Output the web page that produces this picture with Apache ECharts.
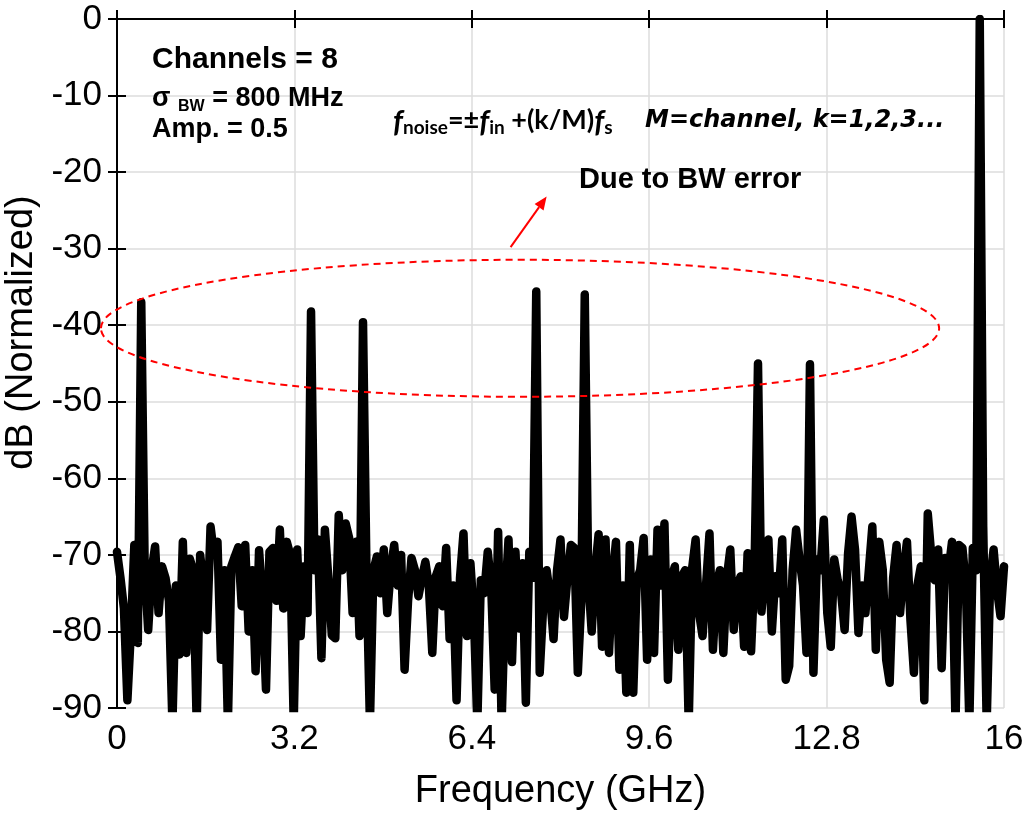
<!DOCTYPE html>
<html>
<head>
<meta charset="utf-8">
<script src="https://cdn.jsdelivr.net/npm/echarts@6/dist/echarts.min.js"></script>
<style>
  html, body { margin: 0; padding: 0; background: #fff; }
  #chart { width: 1028px; height: 818px; }
</style>
</head>
<body>
<div id="chart"></div>
<script>
const FONT = '"Liberation Sans", Arial, Helvetica, sans-serif';

// spectrum: one value per FFT bin, bin width 0.0625 GHz, 0..16 GHz
const FREQ_STEP = 0.0625;
const spectrumDb = [
  -69.6, -73, -77, -89, -80, -68.7, -81.5, -37, -72, -79.8,
  -72, -68.9, -77.6, -71.5, -73, -76, -92, -74, -83, -68.3,
  -82.8, -70.5, -72, -92, -70, -74, -79.8, -66.3, -70, -68.3,
  -83.7, -72, -92, -71.5, -70.2, -69, -76.7, -68.7, -80, -72,
  -85.2, -69.4, -76, -87.6, -69.6, -69.1, -76, -66.7, -77, -68.3,
  -70, -92, -69.3, -80.6, -71.5, -77.6, -38.2, -72, -68, -83.5,
  -66.7, -73, -80.5, -80.9, -64.8, -72, -65.9, -67.8, -77.6, -68.3,
  -80.6, -39.6, -72, -92, -72, -70.2, -75, -69.3, -77.6, -72,
  -68.7, -74, -70, -85, -76, -70.4, -72, -75.4, -73, -70.9,
  -74, -82.8, -72.8, -71.5, -76.7, -69.1, -81, -74, -89, -73,
  -67.2, -80.6, -71.1, -78, -92, -73.3, -75, -69.6, -74, -87.6,
  -67, -92, -76, -68, -84, -69.6, -79.6, -71.1, -89.3, -69.6,
  -73, -35.6, -85.4, -76.7, -72, -75.4, -81, -72, -68, -78.1,
  -73, -68.7, -69.1, -85.4, -76, -36, -73, -80, -72, -67.3,
  -82, -68, -82.8, -73, -68.3, -85, -74, -88, -68.7, -88,
  -73.3, -72, -67.8, -83.7, -70.6, -82.8, -66.7, -74, -65.9, -86.3,
  -73, -71.5, -82.4, -72.8, -72, -92, -71.7, -68, -77.6, -80.6,
  -74, -67.2, -82.4, -74, -72, -82.8, -73, -69.3, -79.8, -74,
  -72.8, -82, -69.8, -82.6, -72, -45, -77.4, -72, -68, -80,
  -72.8, -75, -68, -86.3, -84.5, -72, -66.7, -70.6, -74, -82.8,
  -45.1, -85.4, -70.6, -72, -65.4, -77.6, -82, -70.6, -73.3, -75,
  -79.8, -69.8, -65, -69.3, -80.2, -74, -77.6, -72, -66.3, -82.4,
  -68.3, -71.9, -83.7, -86.7, -73, -68.7, -77.6, -72, -68.3, -78.5,
  -85.4, -74, -71.5, -89, -64.6, -70, -73.3, -69.3, -84.8, -70.4,
  -72, -68.3, -92, -68.7, -69.1, -74, -92, -69.1, -72, 0,
  -66.3, -92, -73.3, -69.3, -74.6, -78, -71.5
];

const xTicks = [0, 3.2, 6.4, 9.6, 12.8, 16];
const yTicks = [-90, -80, -70, -60, -50, -40, -30, -20, -10, 0];

// annotation geometry in data units (GHz, dB)
const ellipseCenter = [7.27, -40.4];
const ellipseRadius = [7.56, 8.95];
const arrowFrom = [7.1, -29.8];
const arrowTo = [7.75, -23.2];

const seriesData = spectrumDb.map((v, i) => [i * FREQ_STEP, v]);

const chart = echarts.init(document.getElementById('chart'));

const axisLine = { show: true, lineStyle: { color: '#000', width: 2 } };
const axisTick = { show: true, inside: true, length: 9, lineStyle: { color: '#000', width: 2 } };
const gridLine = { show: true, lineStyle: { color: '#dcdcdc', width: 1.5 } };
const tickFont = { color: '#000', fontSize: 35, fontFamily: FONT };
const nameFont = { color: '#000', fontSize: 38, fontFamily: FONT };

const xInterval = xTicks[1] - xTicks[0];
const yInterval = yTicks[1] - yTicks[0];

chart.setOption({
  animation: false,
  backgroundColor: '#fff',
  grid: { left: 117, right: 24, top: 19, bottom: 110, containLabel: false, outerBoundsMode: 'none' },
  xAxis: [{
    type: 'value',
    min: xTicks[0], max: xTicks[xTicks.length - 1], interval: xInterval,
    position: 'bottom',
    axisLine, axisTick,
    splitLine: gridLine,
    axisLabel: { ...tickFont, margin: 14 },
    name: 'Frequency (GHz)', nameLocation: 'middle', nameGap: 65,
    nameTextStyle: nameFont
  }, {
    type: 'value',
    min: xTicks[0], max: xTicks[xTicks.length - 1], interval: xInterval,
    position: 'top',
    axisLine, axisTick,
    splitLine: { show: false },
    axisLabel: { show: false }
  }],
  yAxis: [{
    type: 'value',
    min: yTicks[0], max: yTicks[yTicks.length - 1], interval: yInterval,
    position: 'left',
    axisLine, axisTick,
    splitLine: gridLine,
    axisLabel: { ...tickFont, margin: 15 },
    name: 'dB (Normalized)', nameLocation: 'middle', nameGap: 60,
    nameTextStyle: { ...nameFont, padding: [0, 0, 0, 62] }
  }, {
    type: 'value',
    min: yTicks[0], max: yTicks[yTicks.length - 1], interval: yInterval,
    position: 'right',
    axisLine, axisTick,
    splitLine: { show: false },
    axisLabel: { show: false }
  }],
  series: [{
    type: 'line',
    data: seriesData,
    showSymbol: false,
    symbol: 'none',
    clip: true,
    sampling: null,
    lineStyle: { color: '#000', width: 8.5, join: 'round', cap: 'round' }
  }]
});

// annotations
const c = chart.convertToPixel({ gridIndex: 0 }, ellipseCenter);
const edge = chart.convertToPixel({ gridIndex: 0 },
  [ellipseCenter[0] + ellipseRadius[0], ellipseCenter[1] + ellipseRadius[1]]);
const p0 = chart.convertToPixel({ gridIndex: 0 }, arrowFrom);
const p1 = chart.convertToPixel({ gridIndex: 0 }, arrowTo);
const dx = p1[0] - p0[0], dy = p1[1] - p0[1];
const len = Math.sqrt(dx * dx + dy * dy);
const ux = dx / len, uy = dy / len;
const headLen = 13, headW = 5.5;
const base = [p1[0] - ux * headLen, p1[1] - uy * headLen];

function txt(x, y, text, font, extra) {
  return {
    type: 'text', x, y, z: 100,
    style: Object.assign({
      text, font, fill: '#000',
      align: 'left', verticalAlign: 'middle',
      textAlign: 'left', textVerticalAlign: 'middle'
    }, extra || {})
  };
}

const mainB = 'bold 27px ' + FONT;
const subB = 'bold 16px ' + FONT;
const calMain = 'bold 27px Lato, "Open Sans", sans-serif';
const calF = 'italic bold 30px Lato, "Open Sans", sans-serif';
const calSub = 'bold 19px Lato, "Open Sans", sans-serif';

chart.setOption({
  graphic: [
    {
      type: 'ellipse', z: 100,
      shape: { cx: c[0], cy: c[1], rx: Math.abs(edge[0] - c[0]), ry: Math.abs(edge[1] - c[1]) },
      style: { fill: 'none', stroke: '#ff0000', lineWidth: 2, lineDash: [7, 5] }
    },
    {
      type: 'line', z: 100,
      shape: { x1: p0[0], y1: p0[1], x2: base[0], y2: base[1] },
      style: { stroke: '#ff0000', lineWidth: 2 }
    },
    {
      type: 'polygon', z: 100,
      shape: { points: [
        [p1[0], p1[1]],
        [base[0] - uy * headW, base[1] + ux * headW],
        [base[0] + uy * headW, base[1] - ux * headW]
      ] },
      style: { fill: '#ff0000' }
    },
    txt(152, 60, 'Channels = 8', 'bold 30px ' + FONT),
    txt(152, 100, '{m|σ }{s|BW}{m| = 800 MHz}', mainB, {
      rich: {
        m: { font: mainB, lineHeight: 30, verticalAlign: 'top', fill: '#000' },
        s: { font: subB, lineHeight: 16, verticalAlign: 'bottom', fill: '#000' }
      }
    }),
    txt(152, 130, 'Amp. = 0.5', mainB),
    txt(393, 122, '{f|f}{s|noise}{m|=±}{f|f}{s|in}{m| +(k/M)}{f|f}{s|s}', calMain, {
      rich: {
        m: { font: calMain, lineHeight: 30, verticalAlign: 'top', fill: '#000' },
        f: { font: calF, lineHeight: 30, verticalAlign: 'top', fill: '#000' },
        s: { font: calSub, lineHeight: 19, verticalAlign: 'bottom', fill: '#000' }
      }
    }),
    txt(645, 121, 'M=channel, k=1,2,3...', 'italic bold 24px "DejaVu Sans", sans-serif'),
    txt(579, 180, 'Due to BW error', 'bold 29px ' + FONT)
  ]
});
</script>
</body>
</html>
